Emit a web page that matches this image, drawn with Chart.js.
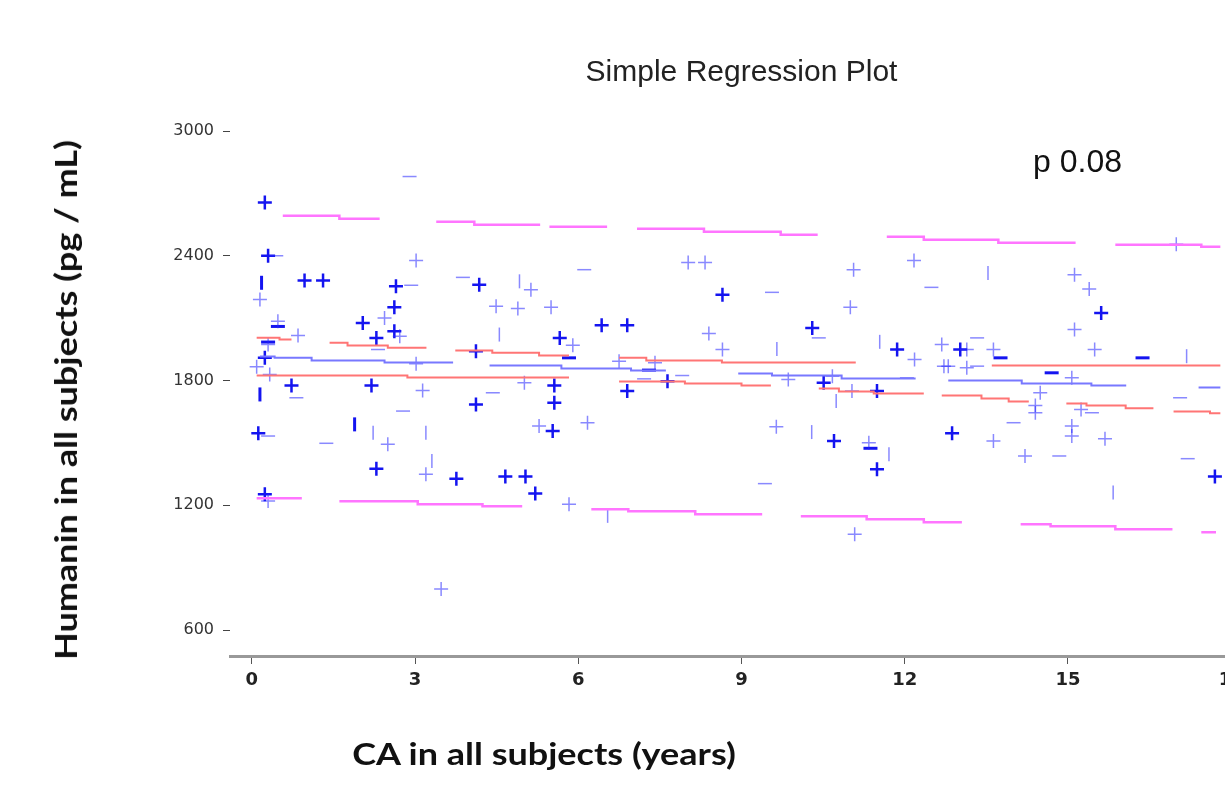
<!DOCTYPE html>
<html>
<head>
<meta charset="utf-8">
<script src="https://cdn.jsdelivr.net/npm/chart.js@4.4.1/dist/chart.umd.min.js"></script>
<style>
  body { margin: 0; overflow: hidden; background: #fff; }
  #wrap { position: relative; width: 1225px; height: 785px; overflow: hidden; }
  .axisTitle { position: absolute; font: bold 30px Lato, sans-serif; line-height: 30px;
    color: #111; white-space: nowrap; }
  #xTitle { left: 544px; top: 738px; transform: translateX(-50%) scaleX(1.2); }
  #yTitle { left: 65px; top: 400px; transform: translate(-50%, -50%) rotate(-90deg) scaleX(1.2); }
  #pValue { position: absolute; left: 1033px; top: 145px;
    font: 32px "Liberation Sans", Arial, sans-serif; line-height: 32px; color: #111; }
</style>
</head>
<body>
<div id="wrap">
  <canvas id="regression" width="1263" height="785"></canvas>
  <div id="xTitle" class="axisTitle">CA in all subjects (years)</div>
  <div id="yTitle" class="axisTitle">Humanin in all subjects (pg / mL)</div>
  <div id="pValue">p 0.08</div>
</div>
<script>
const xTicks = [0, 3, 6, 9, 12, 15, 18];
const yTicks = [600, 1200, 1800, 2400, 3000];

// observations [CA years, humanin pg/mL], grouped by how the mark shows up
const crossBold = [
  [0.24, 2656], [0.3, 2400], [0.97, 2281], [1.31, 2281], [4.18, 2261], [2.65, 2253],
  [2.62, 2152], [2.04, 2077], [2.29, 2005], [2.62, 2037], [0.24, 1909], [0.73, 1776],
  [2.2, 1776], [4.12, 1941], [4.12, 1685], [0.12, 1546], [2.29, 1376], [3.76, 1328],
  [4.66, 1338], [5.03, 1338], [5.21, 1256], [0.24, 1253], [8.65, 2213], [6.43, 2066],
  [6.9, 2066], [10.3, 2053], [11.86, 1949], [5.66, 2005], [7.64, 1797], [10.51, 1789],
  [11.49, 1749], [5.56, 1776], [5.56, 1693], [6.9, 1749], [5.53, 1557], [10.7, 1509],
  [11.49, 1373], [15.61, 2125], [13.02, 1949], [12.87, 1546], [17.7, 1338]
];
const crossLight = [
  [0.15, 2189], [3.02, 2377], [5.13, 2237], [2.44, 2101], [0.48, 2085], [0.85, 2016],
  [2.72, 2013], [0.3, 1973], [0.09, 1866], [0.33, 1829], [3.02, 1880], [3.14, 1752],
  [4.49, 2157], [4.89, 2146], [5.01, 1789], [2.5, 1493], [3.2, 1349], [0.3, 1221],
  [3.48, 797], [5.28, 1581], [8.02, 2368], [8.33, 2368], [11.06, 2333], [12.17, 2377],
  [5.5, 2152], [11.0, 2152], [8.4, 2026], [12.18, 1901], [12.68, 1973], [12.72, 1869],
  [5.9, 1970], [8.65, 1949], [6.75, 1893], [7.41, 1885], [9.86, 1805], [10.67, 1821],
  [11.03, 1750], [6.17, 1597], [9.64, 1578], [11.34, 1501], [5.83, 1205], [11.08, 1061],
  [15.12, 2309], [15.39, 2240], [15.12, 2045], [15.49, 1949], [13.14, 1949], [12.8, 1869],
  [13.14, 1861], [13.63, 1949], [15.07, 1813], [14.49, 1741], [14.4, 1680], [14.4, 1645],
  [15.24, 1661], [13.63, 1509], [15.07, 1581], [15.07, 1533], [15.68, 1520], [14.21, 1437],
  [16.99, 2455]
];
const dashLight = [
  [0.45, 2400], [2.9, 2781], [3.88, 2296], [2.93, 2258], [2.32, 1949], [0.82, 1717],
  [4.43, 1741], [0.3, 1533], [1.37, 1498], [2.78, 1653], [6.11, 2333], [12.49, 2248],
  [9.56, 2224], [10.42, 2005], [7.21, 1808], [7.91, 1824], [9.43, 1304], [12.04, 1813],
  [13.33, 2005], [13.33, 1869], [17.06, 1717], [14.0, 1597], [14.84, 1437], [15.44, 1645],
  [17.2, 1424]
];
const dashBold = [
  [0.48, 2060], [0.3, 1985], [5.83, 1909], [7.3, 1850], [11.37, 1474], [13.76, 1909],
  [16.37, 1909], [14.7, 1837]
];
const barLight = [
  [4.92, 2277], [4.55, 2021], [2.23, 1549], [3.2, 1549], [3.31, 1413], [9.65, 1952],
  [11.54, 1986], [10.29, 1552], [11.71, 1445], [6.54, 1149], [10.74, 1701], [13.53, 2317],
  [17.18, 1917], [15.83, 1261]
];
const barBold = [[0.18, 2270], [0.15, 1733], [1.89, 1589]];

// fitted line and bands, read as stepped pieces [from, to, value]
const fitLine = [
  [0.15, 0.42, 1915], [0.42, 1.1, 1910], [1.1, 2.44, 1896], [2.44, 3.7, 1886],
  [4.37, 5.69, 1872], [5.69, 6.97, 1858], [6.97, 7.61, 1848],
  [8.94, 9.56, 1834], [9.56, 10.84, 1824], [10.84, 12.2, 1810],
  [12.8, 14.15, 1800], [14.15, 15.43, 1786], [15.43, 16.07, 1776],
  [17.4, 17.8, 1766]
];
const confUpper = [
  [0.09, 0.51, 2006], [0.51, 0.73, 1997], [1.43, 1.76, 1982], [1.76, 2.5, 1968],
  [2.5, 3.21, 1958], [3.74, 4.42, 1944], [4.42, 5.28, 1934], [5.28, 5.83, 1920],
  [6.75, 7.25, 1910], [7.25, 8.64, 1896], [8.64, 11.1, 1886], [13.6, 17.8, 1872]
];
const confLower = [
  [0.09, 2.86, 1824], [2.86, 5.83, 1814], [6.75, 7.96, 1795], [7.96, 9.0, 1786],
  [9.0, 9.54, 1776], [10.42, 10.79, 1762], [10.79, 11.43, 1747], [11.43, 12.35, 1738],
  [12.68, 13.41, 1728], [13.41, 13.91, 1714], [13.91, 14.28, 1699], [14.97, 15.34, 1690],
  [15.34, 16.06, 1680], [16.06, 16.57, 1666], [16.94, 17.61, 1651], [17.61, 17.8, 1642]
];
const predUpper = [
  [0.57, 1.61, 2592], [1.61, 2.35, 2578], [3.39, 4.09, 2563], [4.09, 5.3, 2549],
  [5.47, 6.53, 2539], [7.08, 8.31, 2530], [8.31, 9.72, 2515], [9.72, 10.4, 2501],
  [11.67, 12.35, 2491], [12.35, 13.72, 2477], [13.72, 15.14, 2462], [15.87, 17.45, 2453],
  [17.45, 17.8, 2443]
];
const predLower = [
  [0.09, 0.92, 1234], [1.61, 3.05, 1219], [3.05, 4.24, 1205], [4.24, 4.97, 1195],
  [6.24, 6.92, 1181], [6.92, 8.15, 1171], [8.15, 9.38, 1157], [10.09, 11.3, 1147],
  [11.3, 12.35, 1133], [12.35, 13.05, 1118], [14.13, 14.68, 1109], [14.68, 15.87, 1099],
  [15.87, 16.92, 1085], [17.45, 17.72, 1070]
];

function toPoints(list) {
  return list.map(p => ({ x: p[0], y: p[1] }));
}

// joins touching pieces, leaves a gap where the next piece starts later
function toSteps(pieces) {
  const out = [];
  pieces.forEach((s, i) => {
    out.push({ x: s[0], y: s[2] }, { x: s[1], y: s[2] });
    const next = pieces[i + 1];
    if (next && next[0] - s[1] > 0.05) out.push({ x: (s[1] + next[0]) / 2, y: null });
  });
  return out;
}

function lineSet(pieces, color, width) {
  return {
    data: toSteps(pieces), showLine: true, borderColor: color, borderWidth: width,
    pointRadius: 0, spanGaps: false, tension: 0
  };
}

function markSet(list, style, color, width, rotation) {
  return {
    data: toPoints(list), pointStyle: style, pointRadius: 7, pointRotation: rotation || 0,
    borderColor: color, pointBorderColor: color, pointBorderWidth: width,
    backgroundColor: color, showLine: false
  };
}

const ctx = document.getElementById("regression");

new Chart(ctx, {
  type: "scatter",
  data: {
    datasets: [
      lineSet(predUpper, "#ff75ff", 2.5),
      lineSet(predLower, "#ff75ff", 2.5),
      lineSet(confUpper, "#ff7575", 2),
      lineSet(confLower, "#ff7575", 2),
      lineSet(fitLine, "#7878ff", 2),
      markSet(crossLight, "cross", "rgba(40,40,255,0.55)", 1.5),
      markSet(dashLight, "line", "rgba(40,40,255,0.55)", 1.5),
      markSet(barLight, "line", "rgba(40,40,255,0.55)", 1.5, 90),
      markSet(crossBold, "cross", "#1414f0", 2.5),
      markSet(dashBold, "line", "#1414f0", 3),
      markSet(barBold, "line", "#1414f0", 3, 90)
    ]
  },
  options: {
    responsive: false,
    animation: false,
    events: [],
    layout: { padding: 0 },
    plugins: {
      legend: { display: false },
      tooltip: { enabled: false },
      title: {
        display: true,
        fullSize: false,
        text: "Simple Regression Plot",
        color: "#222",
        font: { family: "Liberation Sans", size: 30, weight: "normal" },
        padding: { top: 55, bottom: 40 }
      }
    },
    scales: {
      x: {
        type: "linear",
        min: -0.4,
        max: 18.4,
        afterBuildTicks: (axis) => { axis.ticks = xTicks.map(v => ({ value: v })); },
        afterFit: (axis) => { axis.height = 129; },
        grid: { drawOnChartArea: false, drawTicks: true, tickLength: 8, color: "#555" },
        border: { display: true, color: "#999", width: 3 },
        ticks: {
          color: "#222", padding: 6, autoSkip: false, maxRotation: 0,
          font: { family: "DejaVu Sans", size: 18, weight: "bold" }
        }
      },
      y: {
        type: "linear",
        min: 475,
        max: 3000,
        afterBuildTicks: (axis) => { axis.ticks = yTicks.map(v => ({ value: v })); },
        afterFit: (axis) => { axis.width = 230; },
        grid: { drawOnChartArea: false, drawTicks: true, tickLength: 7, color: "#444" },
        border: { display: false },
        ticks: {
          color: "#333", padding: 9,
          font: { family: "DejaVu Sans", size: 16 },
          callback: (v) => String(v)
        }
      }
    }
  }
});
</script>
</body>
</html>
